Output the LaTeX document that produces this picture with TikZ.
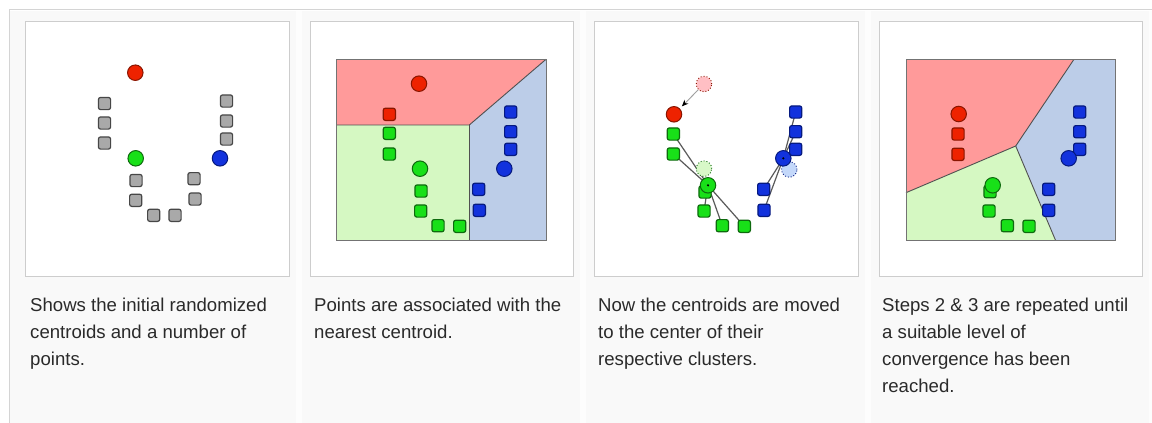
\documentclass[tikz,border=0pt]{standalone}
\usepackage{fontspec}
\setmainfont{Liberation Sans}
\usetikzlibrary{arrows.meta}
\pgfdeclarelayer{bg}
\pgfdeclarelayer{lines}
\pgfsetlayers{bg,lines,main}
\definecolor{framec}{HTML}{D4D4D4}
\definecolor{cellbg}{HTML}{F9F9F9}
\definecolor{gapc}{HTML}{FDFDFD}
\definecolor{boxline}{HTML}{CDCDCD}
\definecolor{txt}{HTML}{2A2A2A}
\definecolor{regR}{HTML}{FF9A9A}
\definecolor{regG}{HTML}{D5F8C2}
\definecolor{regB}{HTML}{BCCDE8}
\definecolor{edgec}{HTML}{505050}
\definecolor{ptGray}{HTML}{A9A9A9}
\definecolor{ptGrayD}{HTML}{474747}
\definecolor{ptRed}{HTML}{EE2200}
\definecolor{ptRedD}{HTML}{8A1500}
\definecolor{ptGreen}{HTML}{18E018}
\definecolor{ptGreenD}{HTML}{0E6A0E}
\definecolor{ptBlue}{HTML}{1232DD}
\definecolor{ptBlueD}{HTML}{061A80}
\definecolor{ghR}{HTML}{FFBFC4}
\definecolor{ghG}{HTML}{D8F8C8}
\definecolor{ghB}{HTML}{C4D8FA}
\definecolor{linkc}{HTML}{5A5A5A}
\definecolor{arrc}{HTML}{A0A0A0}
\tikzset{
  pt/.style={rectangle, rounded corners=2.2pt, minimum size=12.2pt, inner sep=0pt, line width=1.2pt},
  gpt/.style={pt, fill=ptGray, draw=ptGrayD},
  rpt/.style={pt, fill=ptRed, draw=ptRedD},
  npt/.style={pt, fill=ptGreen, draw=ptGreenD},
  bpt/.style={pt, fill=ptBlue, draw=ptBlueD},
  cen/.style={circle, minimum size=15.5pt, inner sep=0pt, line width=1pt},
  rcen/.style={cen, fill=ptRed, draw=ptRedD},
  ncen/.style={cen, fill=ptGreen, draw=ptGreenD},
  bcen/.style={cen, fill=ptBlue, draw=ptBlueD},
  ghostc/.style={circle, minimum size=15.5pt, inner sep=0pt, line width=0.9pt, dotted},
  lnk/.style={draw=linkc, line width=1.2pt},
  bnd/.style={draw=edgec, line width=0.9pt},
  captxt/.style={anchor=north west, inner sep=0pt, align=left, text=txt,
    font=\fontsize{18.6}{27}\selectfont},
  dotc/.style={circle, fill=black, inner sep=0pt, minimum size=2.4pt}
}
\begin{document}
\begin{tikzpicture}[x=1pt,y=-1pt]
\useasboundingbox (0,0) rectangle (1152,423);
\begin{pgfonlayer}{bg}
  \fill[white] (0,0) rectangle (1152,423);
  \fill[cellbg] (10,11) rectangle (1152,423);
  \foreach \i in {0,1,2,3} {
    \fill[gapc] (295.5+284.5*\i,11) rectangle (301.5+284.5*\i,423);
    \filldraw[fill=white, draw=boxline, line width=1pt] (25.5+284.5*\i,21.5) rectangle (289+284.5*\i,276.5);
  }
  \draw[framec, line width=1.3pt] (1152,9.5) -- (9.5,9.5) -- (9.5,423);
  % panel 2 regions
  \fill[regR] (336.7,59.3) -- (546,59.3) -- (469.3,125) -- (336.7,125) -- cycle;
  \fill[regB] (469.3,125) -- (546,59.3) -- (546,240.7) -- (469.3,240.7) -- cycle;
  \fill[regG] (336.7,125) -- (469.3,125) -- (469.3,240.7) -- (336.7,240.7) -- cycle;
  \draw[bnd] (336.7,125) -- (469.3,125) -- (546,59.3);
  \draw[bnd] (469.3,125) -- (469.3,240.7);
  \draw[edgec!80, line width=0.8pt] (336.7,59.3) rectangle (546,240.7);
  % panel 4 regions
  \fill[regR] (906,59.3) -- (1074,59.3) -- (1015.7,146) -- (906,192.7) -- cycle;
  \fill[regB] (1074,59.3) -- (1115.3,59.3) -- (1115.3,240.7) -- (1055.7,240.7) -- (1015.7,146) -- cycle;
  \fill[regG] (906,192.7) -- (1015.7,146) -- (1055.7,240.7) -- (906,240.7) -- cycle;
  \draw[bnd] (1074,59.3) -- (1015.7,146) -- (906,192.7);
  \draw[bnd] (1015.7,146) -- (1055.7,240.7);
  \draw[edgec!80, line width=0.8pt] (906,59.3) rectangle (1115.3,240.7);
\end{pgfonlayer}

% ---------- panel 1 ----------
\node[gpt] (a1) at (104.5,103.5) {};
\node[gpt] (a2) at (104.5,123) {};
\node[gpt] (a3) at (104.5,143) {};
\node[gpt] (a4) at (226.5,101) {};
\node[gpt] (a5) at (226.5,121) {};
\node[gpt] (a6) at (226.5,139) {};
\node[gpt] (a7) at (136,180.5) {};
\node[gpt] (a8) at (135.7,200.3) {};
\node[gpt] (a9) at (153.7,215.3) {};
\node[gpt] (a10) at (175,215.3) {};
\node[gpt] (a11) at (194,178.7) {};
\node[gpt] (a12) at (195,199) {};
\node[rcen] (ar) at (135.3,72.7) {};
\node[ncen] (ag) at (135.7,158.3) {};
\node[bcen] (ab) at (220,158.3) {};

% ---------- panel 2 ----------
\node[rpt] (b1) at (389.3,114.3) {};
\node[npt] (b2) at (389.3,133.3) {};
\node[npt] (b3) at (389.3,154) {};
\node[npt] (b4) at (421,191) {};
\node[npt] (b5) at (420.7,211) {};
\node[npt] (b6) at (438,225.7) {};
\node[npt] (b7) at (459.7,226.3) {};
\node[bpt] (b8) at (510.7,112) {};
\node[bpt] (b9) at (510.7,131.7) {};
\node[bpt] (b10) at (510.7,149.3) {};
\node[bpt] (b11) at (478.7,189.3) {};
\node[bpt] (b12) at (479.3,210.3) {};
\node[rcen] (br) at (419,83.7) {};
\node[ncen] (bg) at (420,168.7) {};
\node[bcen] (bb) at (504.3,168.7) {};

% ---------- panel 3 ----------
\node[ghostc, fill=ghR, draw=ptRedD] (cro) at (704,84) {};
\node[ghostc, fill=ghG, draw=ptGreenD] (cgo) at (704,168.7) {};
\node[ghostc, fill=ghB, draw=ptBlueD] (cbo) at (789.3,169.5) {};
\node[npt] (c1) at (673.3,134) {};
\node[npt] (c2) at (673.3,154) {};
\node[npt] (c3) at (705,192) {};
\node[npt] (c4) at (704,211) {};
\node[npt] (c5) at (722.3,225.7) {};
\node[npt] (c6) at (744.3,226.3) {};
\node[bpt] (c7) at (795.7,112) {};
\node[bpt] (c8) at (795.7,131.7) {};
\node[bpt] (c9) at (795.7,149.3) {};
\node[bpt] (c10) at (763.7,189.3) {};
\node[bpt] (c11) at (764,210.3) {};
\node[rcen] (cr) at (674,114.3) {};
\node[ncen] (cg) at (708,185.3) {};
\node[bcen] (cb) at (783.3,158.3) {};
\node[dotc] (cgd) at (cg) {};
\node[dotc] (cbd) at (cb) {};
\begin{pgfonlayer}{lines}
  \draw[draw=arrc, line width=0.9pt, -{Stealth[length=6.5pt,width=5.5pt,black]}, shorten >=3pt] (cro) -- (cr);
  \foreach \s in {c1,c2,c3,c4,c5,c6} \draw[lnk] (cg.center) -- (\s.center);
  \foreach \s in {c7,c8,c9,c10,c11} \draw[lnk] (cb.center) -- (\s.center);
\end{pgfonlayer}

% ---------- panel 4 ----------
\node[rpt] (d1) at (958,134) {};
\node[rpt] (d2) at (958,154.3) {};
\node[npt] (d3) at (990,191.7) {};
\node[npt] (d4) at (989,211) {};
\node[npt] (d5) at (1007.3,225.7) {};
\node[npt] (d6) at (1029,226.3) {};
\node[bpt] (d7) at (1079.7,112) {};
\node[bpt] (d8) at (1079.7,131.7) {};
\node[bpt] (d9) at (1079.7,149.3) {};
\node[bpt] (d10) at (1048.7,189.3) {};
\node[bpt] (d11) at (1048.7,210.3) {};
\node[rcen] (dr) at (958.7,114) {};
\node[ncen] (dg) at (992.7,185.3) {};
\node[bcen] (db) at (1068.7,158.3) {};

% ---------- captions ----------
\node[captxt] (t1) at (30,297.5) {Shows the initial randomized\\centroids and a number of\\points.};
\node[captxt] (t2) at (314,297.5) {Points are associated with the\\nearest centroid.};
\node[captxt] (t3) at (598,297.5) {Now the centroids are moved\\to the center of their\\respective clusters.};
\node[captxt] (t4) at (882,297.5) {Steps 2 \& 3 are repeated until\\a suitable level of\\convergence has been\\reached.};
\end{tikzpicture}
\end{document}
